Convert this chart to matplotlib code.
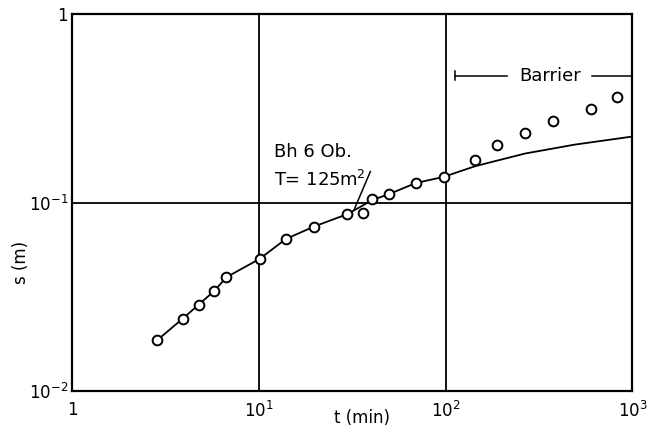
import numpy as np
import matplotlib.pyplot as plt

# Observation borehole Bh 6: drawdown s (m) against time t (min)
t_obs = [2.85, 3.9, 4.75, 5.75, 6.7, 10.1, 13.9, 19.7, 29.8, 36.3, 40.4,
         49.8, 69.3, 97.8, 143, 189, 266, 374, 597, 830]
s_obs = [0.0186, 0.0242, 0.0287, 0.0339, 0.0402, 0.0503, 0.064, 0.0746,
         0.0869, 0.0877, 0.105, 0.111, 0.127, 0.137, 0.168, 0.201, 0.235,
         0.270, 0.315, 0.363]

# fitted type curve (T = 125 m2/d)
t_fit = [2.85, 3.9, 4.75, 5.75, 6.7, 10.1, 13.9, 19.7, 29.8, 40.4, 49.8,
         69.3, 97.8, 144, 266, 492, 1000]
s_fit = [0.0186, 0.0242, 0.0287, 0.0339, 0.0402, 0.0503, 0.064, 0.0746,
         0.0869, 0.103, 0.111, 0.127, 0.137, 0.156, 0.182, 0.203, 0.224]

x_ticks = [1, 10, 100, 1000]
x_tick_labels = ['1', r'$10^{1}$', r'$10^{2}$', r'$10^{3}$']
y_ticks = [0.01, 0.1, 1]
y_tick_labels = [r'$10^{-2}$', r'$10^{-1}$', '1']

fig = plt.figure(figsize=(6.5, 4.38), dpi=100)
ax = fig.add_axes([0.111, 0.107, 0.862, 0.861])
ax.set_xscale('log')
ax.set_yscale('log')
ax.set_xlim(1, 1000)
ax.set_ylim(0.01, 1)

for sp in ax.spines.values():
    sp.set_linewidth(1.6)
ax.grid(True, which='major', color='black', lw=1.3)
ax.minorticks_off()
ax.set_xticks(x_ticks, x_tick_labels)
ax.set_yticks(y_ticks, y_tick_labels)
ax.tick_params(length=0, labelsize=12, pad=7)
ax.tick_params(axis='y', pad=3)

ax.plot(t_fit, s_fit, color='black', lw=1.3, zorder=3)
ax.plot(t_obs, s_obs, 'o', ms=7, mfc='white', mec='black', mew=1.4,
        zorder=4, clip_on=False)

ax.set_xlabel('t (min)', fontsize=12)
ax.xaxis.set_label_coords(0.518, -0.072)
ax.xaxis.label.set_va('center')
ax.set_ylabel('s (m)', fontsize=12)
ax.yaxis.set_label_coords(-0.075, 0.34)

ax.text(12, 0.185, 'Bh 6 Ob.', fontsize=13, va='center', ha='left')
ax.text(12, 0.132, r'T= 125m$^2$', fontsize=13, va='center', ha='left')
ax.plot([39.5, 32.4], [0.146, 0.092], color='black', lw=1.1, zorder=3)

# barrier bracket
ax.plot([112, 212], [0.47, 0.47], color='black', lw=1.1)
ax.plot([112, 112], [0.445, 0.497], color='black', lw=1.1)
ax.plot([610, 1000], [0.47, 0.47], color='black', lw=1.1)
ax.text(363, 0.47, 'Barrier', fontsize=13, ha='center', va='center')

fig.savefig('out.png', dpi=100)
